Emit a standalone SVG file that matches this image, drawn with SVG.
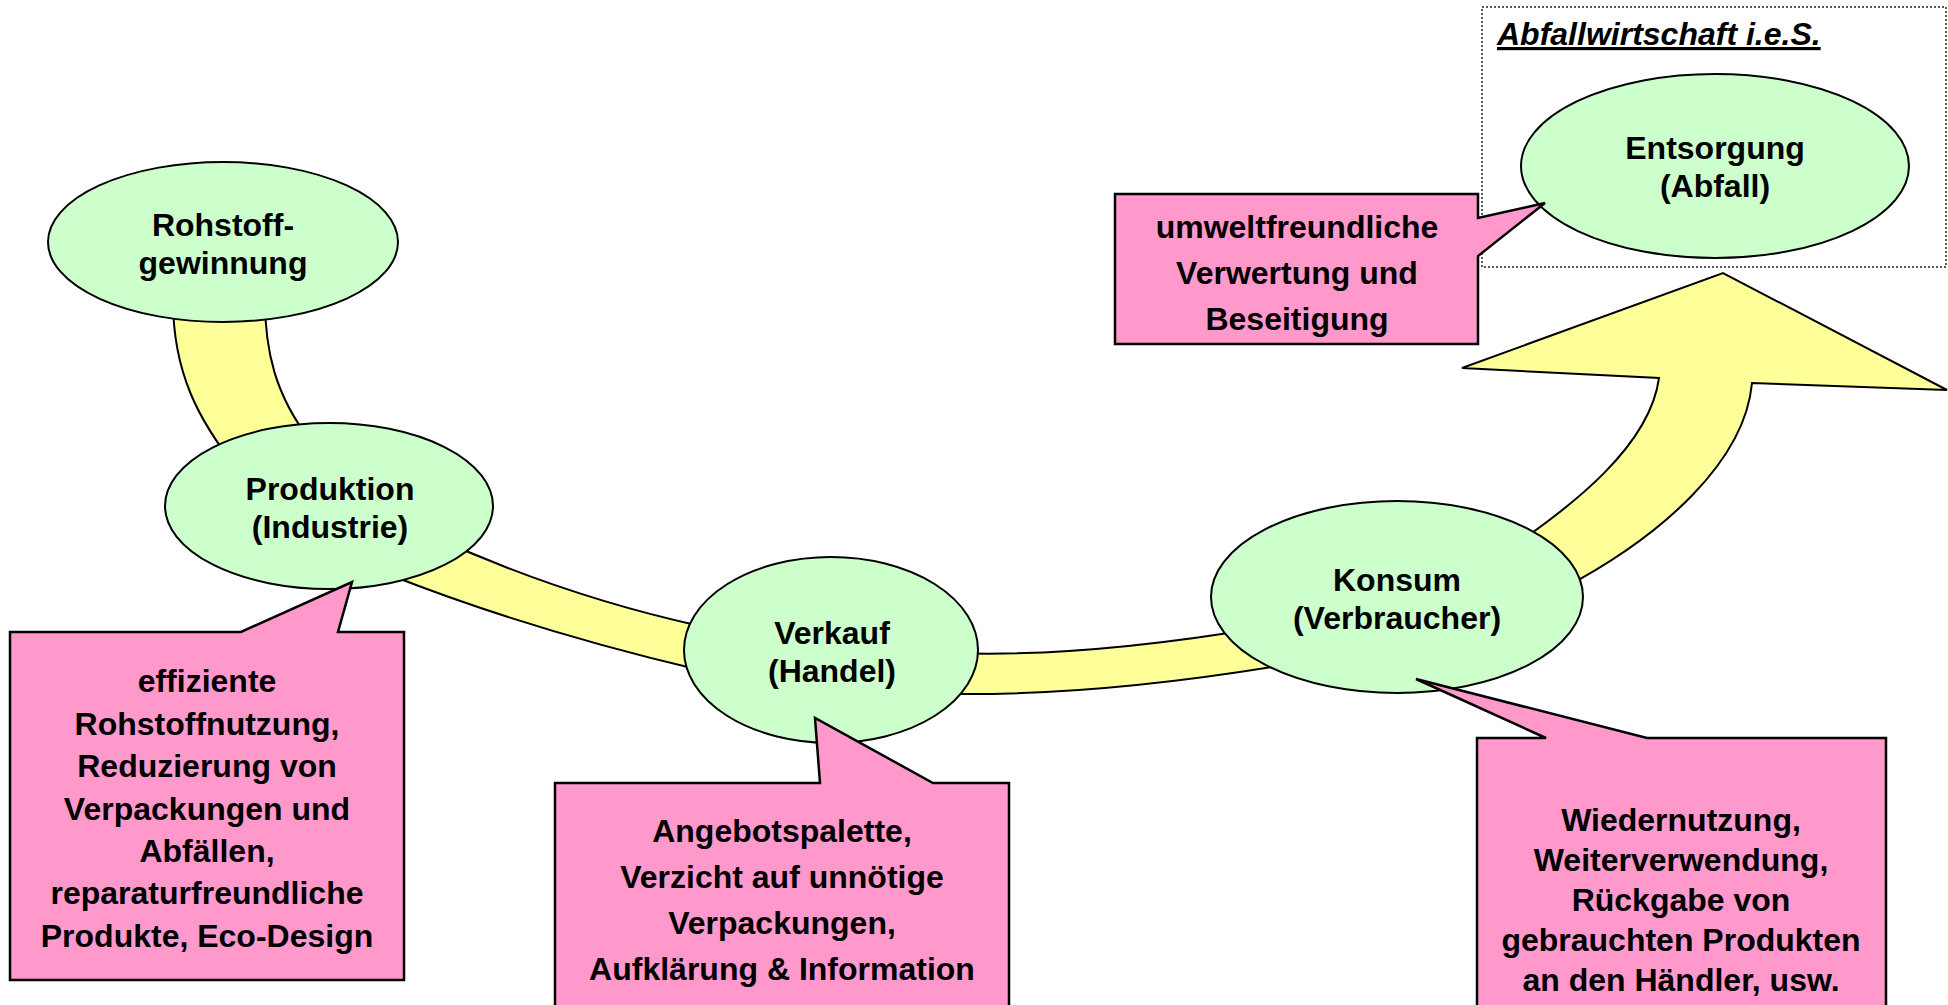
<svg xmlns="http://www.w3.org/2000/svg" width="1948" height="1005" viewBox="0 0 1948 1005">
<style>
.band{fill:#FFFF99;stroke:#000;stroke-width:2;stroke-linejoin:miter}
.node ellipse{fill:#CCFFCC;stroke:#000;stroke-width:2}
.callout path{fill:#FF99CC;stroke:#000;stroke-width:2.5;stroke-linejoin:miter}
text{font-family:"Liberation Sans",Arial,sans-serif;font-weight:bold;font-size:32px;fill:#000;text-anchor:middle}
.frame{fill:none;stroke:#222;stroke-width:1.5;stroke-dasharray:2 2}
.title{font-style:italic;text-anchor:start;text-decoration:underline}
</style>
<rect x="0" y="0" width="1948" height="1005" fill="#fff"/>
<g id="frame-abfallwirtschaft">
<rect class="frame" x="1482" y="7" width="464" height="260"/>
<text class="title" x="1497" y="45">Abfallwirtschaft i.e.S.</text>
</g>
<g id="connectors">
<path class="band" d="M173,300 C173,372 198,420 238,470 L310,440 C275,395 265,350 265,300 Z"/>
<path class="band" d="M430,535 Q560,595 700,626 L950,653 Q1080,658 1260,628 L1290,664 Q1100,696 950,694 L700,670 Q530,630 390,575 Z"/>
<path class="band" d="M1500,555 C1575,505 1650,445 1659,378 L1462,368 L1723,273 L1947,390 L1752,383 C1745,460 1665,535 1560,590 Z"/>
</g>
<g id="node-rohstoff" class="node">
<ellipse cx="223" cy="242" rx="175" ry="80"/>
<text x="223" y="236">Rohstoff-</text>
<text x="223" y="274">gewinnung</text>
</g>
<g id="node-produktion" class="node">
<ellipse cx="329" cy="506" rx="164" ry="83"/>
<text x="330" y="500">Produktion</text>
<text x="330" y="538">(Industrie)</text>
</g>
<g id="node-verkauf" class="node">
<ellipse cx="831" cy="650" rx="147" ry="93"/>
<text x="832" y="644">Verkauf</text>
<text x="832" y="682">(Handel)</text>
</g>
<g id="node-konsum" class="node">
<ellipse cx="1397" cy="597" rx="186" ry="96"/>
<text x="1397" y="591">Konsum</text>
<text x="1397" y="629">(Verbraucher)</text>
</g>
<g id="node-entsorgung" class="node">
<ellipse cx="1715" cy="166" rx="194" ry="92"/>
<text x="1715" y="159">Entsorgung</text>
<text x="1715" y="197">(Abfall)</text>
</g>
<g id="callout-produktion" class="callout">
<path d="M10,632 L241,632 L352,582 L338,632 L404,632 L404,980 L10,980 Z"/>
<text x="207" y="692">effiziente</text>
<text x="207" y="735">Rohstoffnutzung,</text>
<text x="207" y="777">Reduzierung von</text>
<text x="207" y="820">Verpackungen und</text>
<text x="207" y="862">Abfällen,</text>
<text x="207" y="904">reparaturfreundliche</text>
<text x="207" y="947">Produkte, Eco-Design</text>
</g>
<g id="callout-verkauf" class="callout">
<path d="M555,783 L820,783 L815,718 L933,783 L1009,783 L1009,1012 L555,1012 Z"/>
<text x="782" y="842">Angebotspalette,</text>
<text x="782" y="888">Verzicht auf unnötige</text>
<text x="782" y="934">Verpackungen,</text>
<text x="782" y="980">Aufklärung &amp; Information</text>
</g>
<g id="callout-konsum" class="callout">
<path d="M1477,738 L1546,738 L1416,679 L1647,738 L1886,738 L1886,1012 L1477,1012 Z"/>
<text x="1681" y="831">Wiedernutzung,</text>
<text x="1681" y="871">Weiterverwendung,</text>
<text x="1681" y="911">Rückgabe von</text>
<text x="1681" y="951">gebrauchten Produkten</text>
<text x="1681" y="991">an den Händler, usw.</text>
</g>
<g id="callout-entsorgung" class="callout">
<path d="M1115,194 L1478,194 L1478,218 L1545,203 L1478,256 L1478,344 L1115,344 Z"/>
<text x="1297" y="238">umweltfreundliche</text>
<text x="1297" y="284">Verwertung und</text>
<text x="1297" y="330">Beseitigung</text>
</g>
</svg>
